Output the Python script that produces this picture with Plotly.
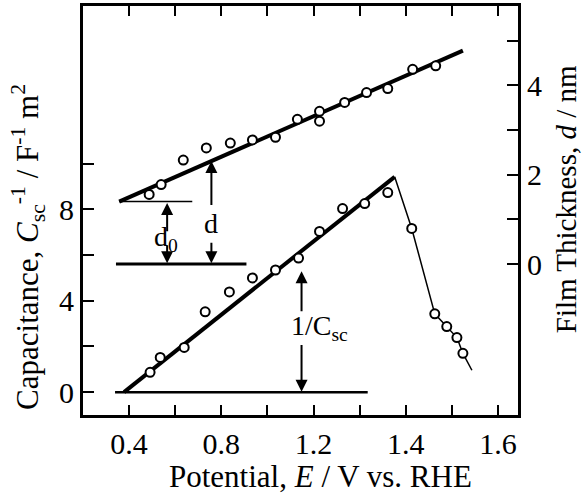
import plotly.graph_objects as go

# ---- data (x in uniform axis units; tick labels below) ----
low_x = [0.491, 0.535, 0.639, 0.730, 0.835, 0.935, 1.035, 1.135, 1.226, 1.326, 1.422, 1.522, 1.626, 1.726, 1.778, 1.822, 1.848]
low_y = [0.87, 1.52, 1.96, 3.52, 4.39, 5.00, 5.35, 5.87, 7.04, 8.04, 8.26, 8.74, 7.17, 3.43, 2.87, 2.39, 1.70]
low_fit_x = [0.378, 1.552]
low_fit_y = [0.0, 9.43]
decay_x = [1.552, 1.626, 1.726, 1.778, 1.822, 1.848, 1.887]
decay_y = [9.43, 7.17, 3.43, 2.87, 2.39, 1.70, 0.96]

up_x = [0.487, 0.539, 0.635, 0.735, 0.839, 0.935, 1.035, 1.130, 1.226, 1.226, 1.335, 1.430, 1.522, 1.630, 1.730]
up_d = [1.56, 1.78, 2.33, 2.60, 2.71, 2.78, 2.84, 3.24, 3.42, 3.20, 3.62, 3.84, 3.93, 4.36, 4.44]
up_fit_x = [0.357, 1.848]
up_fit_d = [1.40, 4.78]

base_csc_x = [0.339, 1.435]; base_csc_y = [0, 0]
base_d_x = [0.343, 0.909]; base_d_y = [0, 0]
d0_x = [0.357, 0.674]; d0_y = [1.4, 1.4]

x_tickvals = [0.4, 0.8, 1.2, 1.6, 2.0]
x_ticktext = ["0.4", "0.8", "1.2", "1.4", "1.6"]
x_minor = [0.6, 1.0, 1.4, 1.8]
y_tickvals = [0, 4, 8]
y_ticktext = ["0", "4", "8"]
y_minor = [2, 6, 10]
y2_tickvals = [0, 2, 4]
y2_ticktext = ["0", "2", "4"]
y2_minor = [1, 3, 5]

FONT = "Liberation Serif, Times New Roman, serif"
K = "black"
mk = dict(symbol="circle", size=9, color="white", line=dict(color=K, width=2))

fig = go.Figure()
fig.add_trace(go.Scatter(x=base_csc_x, y=base_csc_y, mode="lines", line=dict(color=K, width=2.5)))
fig.add_trace(go.Scatter(x=base_d_x, y=base_d_y, yaxis="y2", mode="lines", line=dict(color=K, width=3)))
fig.add_trace(go.Scatter(x=d0_x, y=d0_y, yaxis="y2", mode="lines", line=dict(color=K, width=1.5)))
fig.add_trace(go.Scatter(x=low_fit_x, y=low_fit_y, mode="lines", line=dict(color=K, width=4)))
fig.add_trace(go.Scatter(x=decay_x, y=decay_y, mode="lines", line=dict(color=K, width=1.5)))
fig.add_trace(go.Scatter(x=low_x, y=low_y, mode="markers", marker=mk))
fig.add_trace(go.Scatter(x=up_fit_x, y=up_fit_d, yaxis="y2", mode="lines", line=dict(color=K, width=4)))
fig.add_trace(go.Scatter(x=up_x, y=up_d, yaxis="y2", mode="markers", marker=mk))

arrow = dict(showarrow=True, arrowhead=2, arrowsize=1.2, arrowwidth=2, arrowcolor=K, text="")
anns = [
    # d arrow (right axis)
    dict(x=0.757, y=2.31, ax=0.757, ay=1.29, xref="x", yref="y2", axref="x", ayref="y2", **arrow),
    dict(x=0.757, y=0.02, ax=0.757, ay=0.51, xref="x", yref="y2", axref="x", ayref="y2", **arrow),
    # d0 arrow
    dict(x=0.565, y=1.37, ax=0.565, ay=0.7, xref="x", yref="y2", axref="x", ayref="y2", **arrow),
    dict(x=0.565, y=0.02, ax=0.565, ay=0.45, xref="x", yref="y2", axref="x", ayref="y2", **arrow),
    # 1/Csc arrow
    dict(x=1.148, y=5.3, ax=1.148, ay=3.48, xref="x", yref="y", axref="x", ayref="y", **arrow),
    dict(x=1.148, y=0.02, ax=1.148, ay=2.13, xref="x", yref="y", axref="x", ayref="y", **arrow),
]
txt = dict(showarrow=False, xanchor="center", yanchor="middle",
           font=dict(family=FONT, size=28, color=K))
ttl = dict(showarrow=False, xanchor="center", yanchor="middle",
           font=dict(family=FONT, size=31, color=K))
anns += [
    dict(x=0.757, y=0.91, xref="x", yref="y2", text="d", **txt),
    dict(x=0.56, y=0.58, xref="x", yref="y2", text="d<sub>0</sub>", **txt),
    dict(x=1.226, y=2.83, xref="x", yref="y", text="1/C<sub>sc</sub>", **txt),
    dict(x=0.545, y=-0.150, xref="paper", yref="paper",
         text="Potential, <i>E</i> / V vs. RHE", **ttl),
    dict(x=-0.125, y=0.41, xref="paper", yref="paper", textangle=-90,
         text="Capacitance, <i>C</i><sub>sc</sub><sup>-1</sup> / F<sup>-1</sup> m<sup>2</sup>", **ttl),
    dict(x=1.112, y=0.527, xref="paper", yref="paper", textangle=-90,
         showarrow=False, xanchor="center", yanchor="middle",
         font=dict(family=FONT, size=29, color=K),
         text="Film Thickness, <i>d</i> / nm"),
]

tickfont = dict(family=FONT, size=30, color=K)
common = dict(ticks="inside", tickwidth=2, tickcolor=K, showline=True, linewidth=3,
              linecolor=K, showgrid=False, zeroline=False, tickfont=tickfont)
fig.update_layout(
    width=586, height=493,
    margin=dict(l=83, r=68, t=3, b=78),
    paper_bgcolor="white", plot_bgcolor="white",
    showlegend=False,
    annotations=anns,
    xaxis=dict(range=[0.2, 2.087], tickvals=x_tickvals, ticktext=x_ticktext, ticklen=10,
               mirror="allticks",
               minor=dict(tickvals=x_minor, ticks="inside", ticklen=10, tickwidth=2, tickcolor=K),
               **common),
    yaxis=dict(range=[-1.0, 16.91], tickvals=y_tickvals, ticktext=y_ticktext, ticklen=11,
               minor=dict(tickvals=y_minor, ticks="inside", ticklen=11, tickwidth=2, tickcolor=K),
               **common),
    yaxis2=dict(range=[-3.378, 5.778], overlaying="y", side="right",
                tickvals=y2_tickvals, ticktext=y2_ticktext, ticklen=11,
                minor=dict(tickvals=y2_minor, ticks="inside", ticklen=11, tickwidth=2, tickcolor=K),
                **common),
)

fig.write_html("out.html")
